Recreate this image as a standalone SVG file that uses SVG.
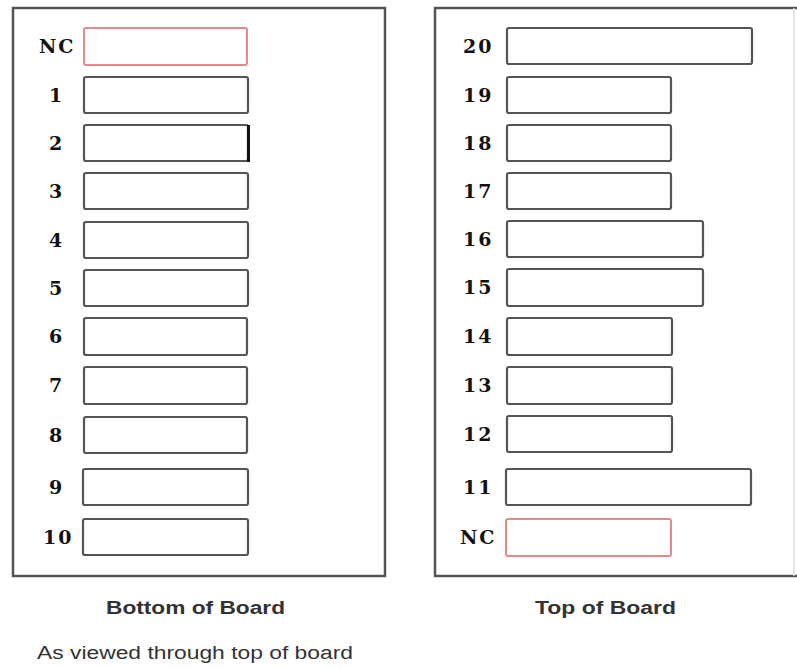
<svg xmlns="http://www.w3.org/2000/svg" width="797" height="668" viewBox="0 0 797 668">
<style>
.panel{fill:#fff;stroke:#555;stroke-width:2.5}
.pad{fill:#fff;stroke:#555;stroke-width:2.2}
.nc{fill:#fff;stroke:#e08a8a;stroke-width:2}
.lbl{font-family:"DejaVu Serif","Liberation Serif",serif;font-weight:bold;font-size:19px;fill:#111;letter-spacing:2px}
.cap{font-family:"Liberation Sans",Arial,sans-serif;font-weight:bold;font-size:18px;fill:#333}
.note{font-family:"Liberation Sans",Arial,sans-serif;font-size:18px;fill:#333}
</style>
<rect width="797" height="668" fill="#fff"/>
<g id="bottom-board">
<rect class="panel" x="13" y="8" width="372" height="568"/>
</g>
<g id="top-board">
<path class="panel" d="M797 8 H435 V576 H797" fill="none"/>
<line x1="794" y1="8" x2="794" y2="576" stroke="#ddd" stroke-width="1.5"/>
</g>
<g id="bottom-pads">
<g id="pad-nc-left"><rect class="nc" x="84" y="28" width="163" height="37" rx="2"/><text class="lbl" x="39" y="53">NC</text></g>
<g id="pad-1"><rect class="pad" x="84" y="77" width="164" height="36" rx="2"/><text class="lbl" x="49" y="102">1</text></g>
<g id="pad-2"><rect class="pad" x="84" y="125" width="164" height="36" rx="2"/><line x1="248.5" y1="125" x2="248.5" y2="162" stroke="#111" stroke-width="3"/><text class="lbl" x="49" y="150">2</text></g>
<g id="pad-3"><rect class="pad" x="84" y="173" width="164" height="36" rx="2"/><text class="lbl" x="49" y="198">3</text></g>
<g id="pad-4"><rect class="pad" x="84" y="222" width="164" height="36" rx="2"/><text class="lbl" x="49" y="247">4</text></g>
<g id="pad-5"><rect class="pad" x="84" y="270" width="164" height="36" rx="2"/><text class="lbl" x="49" y="295">5</text></g>
<g id="pad-6"><rect class="pad" x="84" y="318" width="163" height="37" rx="2"/><text class="lbl" x="49" y="343">6</text></g>
<g id="pad-7"><rect class="pad" x="84" y="367" width="163" height="37" rx="2"/><text class="lbl" x="49" y="392">7</text></g>
<g id="pad-8"><rect class="pad" x="84" y="417" width="163" height="36" rx="2"/><text class="lbl" x="49" y="442">8</text></g>
<g id="pad-9"><rect class="pad" x="83" y="469" width="165" height="36" rx="2"/><text class="lbl" x="49" y="494">9</text></g>
<g id="pad-10"><rect class="pad" x="83" y="519" width="165" height="36" rx="2"/><text class="lbl" x="43" y="544">10</text></g>
</g>
<g id="top-pads">
<g id="pad-20"><rect class="pad" x="507" y="28" width="245" height="36" rx="2"/><text class="lbl" x="463" y="53">20</text></g>
<g id="pad-19"><rect class="pad" x="507" y="77" width="164" height="36" rx="2"/><text class="lbl" x="463" y="102">19</text></g>
<g id="pad-18"><rect class="pad" x="507" y="125" width="164" height="36" rx="2"/><text class="lbl" x="463" y="150">18</text></g>
<g id="pad-17"><rect class="pad" x="507" y="173" width="164" height="36" rx="2"/><text class="lbl" x="463" y="198">17</text></g>
<g id="pad-16"><rect class="pad" x="507" y="221" width="196" height="36" rx="2"/><text class="lbl" x="463" y="246">16</text></g>
<g id="pad-15"><rect class="pad" x="507" y="269" width="196" height="37" rx="2"/><text class="lbl" x="463" y="294">15</text></g>
<g id="pad-14"><rect class="pad" x="507" y="318" width="165" height="37" rx="2"/><text class="lbl" x="463" y="343">14</text></g>
<g id="pad-13"><rect class="pad" x="507" y="367" width="165" height="37" rx="2"/><text class="lbl" x="463" y="392">13</text></g>
<g id="pad-12"><rect class="pad" x="507" y="416" width="165" height="36" rx="2"/><text class="lbl" x="463" y="441">12</text></g>
<g id="pad-11"><rect class="pad" x="506" y="469" width="245" height="36" rx="2"/><text class="lbl" x="463" y="494">11</text></g>
<g id="pad-nc-right"><rect class="nc" x="506" y="519" width="165" height="37" rx="2"/><text class="lbl" x="460" y="544">NC</text></g>
</g>
<g id="connectors"/>
<text class="cap" x="106" y="614" textLength="179" lengthAdjust="spacingAndGlyphs">Bottom of Board</text>
<text class="cap" x="535" y="614" textLength="141" lengthAdjust="spacingAndGlyphs">Top of Board</text>
<text class="note" x="37" y="659" textLength="316" lengthAdjust="spacingAndGlyphs">As viewed through top of board</text>
</svg>
